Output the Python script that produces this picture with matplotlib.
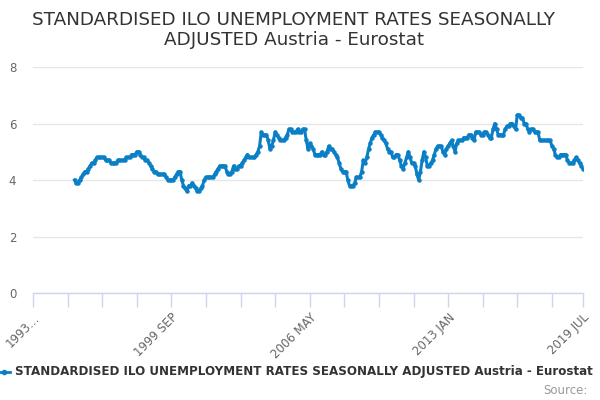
import matplotlib
matplotlib.use("Agg")
import matplotlib.pyplot as plt

title = "STANDARDISED ILO UNEMPLOYMENT RATES SEASONALLY\nADJUSTED Austria - Eurostat"
series_name = "STANDARDISED ILO UNEMPLOYMENT RATES SEASONALLY ADJUSTED Austria - Eurostat"

axis_start_year = 1993  # axis begins 1993 JAN
data_start_year = 1995  # series begins 1995 JAN

values_by_year = {
    1995: [4.0, 3.9, 3.9, 4.0, 4.1, 4.2, 4.3, 4.3, 4.4, 4.5, 4.6, 4.6],
    1996: [4.7, 4.8, 4.8, 4.8, 4.8, 4.8, 4.7, 4.7, 4.7, 4.6, 4.6, 4.6],
    1997: [4.6, 4.7, 4.7, 4.7, 4.7, 4.7, 4.8, 4.8, 4.8, 4.9, 4.9, 4.9],
    1998: [5.0, 5.0, 4.9, 4.8, 4.8, 4.7, 4.7, 4.6, 4.5, 4.4, 4.3, 4.3],
    1999: [4.2, 4.2, 4.2, 4.2, 4.2, 4.1, 4.0, 4.0, 4.0, 4.0, 4.1, 4.2],
    2000: [4.3, 4.3, 4.0, 3.8, 3.7, 3.6, 3.8, 3.8, 3.9, 3.8, 3.7, 3.6],
    2001: [3.6, 3.7, 3.8, 4.0, 4.1, 4.1, 4.1, 4.1, 4.1, 4.2, 4.3, 4.4],
    2002: [4.5, 4.5, 4.5, 4.5, 4.3, 4.2, 4.2, 4.3, 4.5, 4.4, 4.4, 4.5],
    2003: [4.5, 4.6, 4.7, 4.8, 4.9, 4.8, 4.8, 4.8, 4.8, 4.9, 5.0, 5.2],
    2004: [5.7, 5.6, 5.6, 5.6, 5.4, 5.1, 5.2, 5.4, 5.7, 5.6, 5.5, 5.4],
    2005: [5.4, 5.4, 5.5, 5.6, 5.8, 5.8, 5.7, 5.7, 5.7, 5.8, 5.7, 5.7],
    2006: [5.8, 5.8, 5.4, 5.1, 5.3, 5.2, 5.1, 4.9, 4.9, 4.9, 4.9, 5.0],
    2007: [4.9, 4.9, 5.0, 5.2, 5.1, 5.1, 5.0, 4.9, 4.8, 4.6, 4.4, 4.3],
    2008: [4.3, 4.3, 4.0, 3.8, 3.8, 3.8, 3.9, 4.1, 4.1, 4.1, 4.3, 4.7],
    2009: [4.6, 4.8, 5.1, 5.3, 5.5, 5.6, 5.7, 5.7, 5.7, 5.6, 5.5, 5.4],
    2010: [5.3, 5.1, 5.0, 5.0, 4.8, 4.8, 4.9, 4.9, 4.7, 4.5, 4.4, 4.6],
    2011: [4.8, 5.0, 4.8, 4.6, 4.6, 4.5, 4.2, 4.0, 4.3, 4.7, 5.0, 4.8],
    2012: [4.5, 4.5, 4.6, 4.7, 4.9, 5.1, 5.2, 5.2, 5.2, 5.0, 4.9, 5.1],
    2013: [5.2, 5.3, 5.4, 5.2, 5.0, 5.3, 5.4, 5.4, 5.4, 5.5, 5.5, 5.5],
    2014: [5.6, 5.6, 5.5, 5.4, 5.7, 5.7, 5.7, 5.6, 5.6, 5.7, 5.7, 5.6],
    2015: [5.5, 5.5, 5.8, 6.0, 5.8, 5.6, 5.6, 5.6, 5.6, 5.8, 5.9, 5.9],
    2016: [6.0, 6.0, 5.9, 5.8, 6.3, 6.3, 6.2, 6.2, 6.0, 6.0, 5.8, 5.7],
    2017: [5.8, 5.8, 5.7, 5.7, 5.7, 5.4, 5.4, 5.4, 5.4, 5.4, 5.4, 5.4],
    2018: [5.2, 5.1, 4.9, 4.8, 4.8, 4.9, 4.9, 4.9, 4.9, 4.7, 4.6, 4.6],
    2019: [4.6, 4.7, 4.8, 4.7, 4.6, 4.5, 4.4],
}

tick_labels = ["1993…", "1999 SEP", "2006 MAY", "2013 JAN", "2019 JUL"]
y_ticks = [0, 2, 4, 6, 8]

# x positions = months since axis start (1993 JAN)
xs, ys = [], []
for yr in sorted(values_by_year):
    for mi, v in enumerate(values_by_year[yr]):
        xs.append((yr - axis_start_year) * 12 + mi)
        ys.append(v)
x_end = xs[-1]

line_color = "#0a7fc6"
grid_color = "#e6e6e6"
axis_color = "#ccd6eb"
text_color = "#666666"

fig = plt.figure(figsize=(6, 4), dpi=100)
ax = fig.add_axes([33 / 600, 1 - 293 / 400, 550 / 600, 226 / 400])

ax.plot(xs, ys, color=line_color, lw=2.2, marker="o", ms=2.2,
        solid_joinstyle="round", zorder=3)

ax.set_xlim(0, x_end)
ax.set_ylim(0, 8)
ax.set_yticks(y_ticks)
ax.set_yticklabels([str(t) for t in y_ticks])
ax.grid(axis="y", color=grid_color, lw=1)
ax.set_axisbelow(True)

minor = list(range(0, x_end, 20)) + [x_end]
ax.set_xticks(minor)
lab_map = {0: tick_labels[0], 80: tick_labels[1], 160: tick_labels[2],
           240: tick_labels[3], x_end: tick_labels[4]}
labels = [lab_map.get(t, "") for t in minor]
ax.set_xticklabels(labels, rotation=45, ha="right", rotation_mode="anchor",
                   fontsize=8.5, color=text_color)
ax.tick_params(axis="x", length=10, color=axis_color, width=1, pad=3)
ax.tick_params(axis="y", length=0, labelsize=8.5, labelcolor=text_color, pad=12)

for s in ["left", "right", "top"]:
    ax.spines[s].set_visible(False)
ax.spines["bottom"].set_color(axis_color)
ax.spines["bottom"].set_linewidth(1)

fig.text(0.49, 1 - 30 / 400, title, ha="center", va="center",
         fontsize=13.2, color="#333333", linespacing=1.15)

# legend (bottom, partially cut at left as in the original)
fig.lines.append(plt.Line2D([-2 / 600, 10 / 600], [1 - 372 / 400] * 2,
                            transform=fig.transFigure, color=line_color, lw=2))
fig.lines.append(plt.Line2D([4 / 600], [1 - 372 / 400], marker="o", ms=3,
                            transform=fig.transFigure, color=line_color))
fig.text(15 / 600, 1 - 372 / 400, series_name, ha="left", va="center",
         fontsize=8.6, fontweight="bold", color="#333333")
fig.text(588 / 600, 1 - 390 / 400, "Source:", ha="right", va="center",
         fontsize=8.5, color="#999999")

fig.savefig("out.png", dpi=100)
